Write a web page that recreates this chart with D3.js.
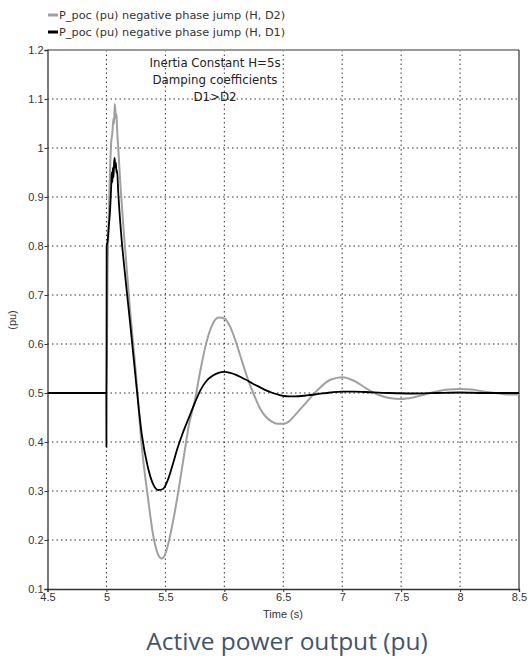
<!DOCTYPE html>
<html>
<head>
<meta charset="utf-8">
<script src="https://cdn.jsdelivr.net/npm/d3@7"></script>
<style>
  body { margin: 0; background: #fff; }
  text { font-family: "Liberation Sans", Arial, sans-serif; }
</style>
</head>
<body>
<svg id="chart" width="530" height="661"></svg>
<script>
// time axis (s)
var timeD2 = [4.5, 4.999, 5.0, 5.01, 5.02, 5.03, 5.04, 5.05, 5.06, 5.065, 5.07, 5.075, 5.08, 5.085, 5.09, 5.1, 5.12, 5.15, 5.2, 5.25, 5.3, 5.35, 5.4, 5.45, 5.47, 5.5, 5.55, 5.6, 5.65, 5.7, 5.75, 5.8, 5.85, 5.9, 5.95, 6.0, 6.05, 6.1, 6.15, 6.2, 6.25, 6.3, 6.35, 6.4, 6.45, 6.5, 6.55, 6.6, 6.7, 6.8, 6.9, 7.0, 7.1, 7.2, 7.3, 7.4, 7.5, 7.6, 7.7, 7.8, 7.9, 8.0, 8.1, 8.2, 8.3, 8.4, 8.5];
var powerD2 = [0.5, 0.5, 0.5, 0.75, 0.86, 0.95, 1.01, 1.03, 1.06, 1.05, 1.09, 1.08, 1.06, 1.07, 1.04, 1.0, 0.92, 0.82, 0.67, 0.54, 0.39, 0.29, 0.205, 0.165, 0.162, 0.172, 0.22, 0.285, 0.36, 0.435, 0.485, 0.55, 0.605, 0.64, 0.654, 0.652, 0.635, 0.603, 0.565, 0.528, 0.497, 0.47, 0.452, 0.442, 0.437, 0.437, 0.442, 0.455, 0.482, 0.508, 0.527, 0.532, 0.525, 0.51, 0.497, 0.49, 0.488, 0.491, 0.497, 0.503, 0.507, 0.508, 0.507, 0.503, 0.5, 0.497, 0.497];

var timeD1 = [4.5, 4.999, 5.0, 5.002, 5.01, 5.02, 5.03, 5.04, 5.045, 5.05, 5.055, 5.06, 5.065, 5.07, 5.075, 5.08, 5.085, 5.09, 5.1, 5.13, 5.15, 5.2, 5.25, 5.3, 5.35, 5.4, 5.44, 5.48, 5.52, 5.56, 5.6, 5.65, 5.7, 5.75, 5.8, 5.85, 5.9, 5.95, 6.0, 6.05, 6.1, 6.15, 6.2, 6.25, 6.3, 6.35, 6.4, 6.45, 6.5, 6.55, 6.6, 6.7, 6.8, 6.9, 7.0, 7.1, 7.2, 7.4, 7.6, 7.8, 8.0, 8.2, 8.5];
var powerD1 = [0.5, 0.5, 0.39, 0.80, 0.81, 0.84, 0.87, 0.92, 0.95, 0.93, 0.96, 0.94, 0.97, 0.98, 0.96, 0.97, 0.95, 0.955, 0.91, 0.81, 0.76, 0.645, 0.525, 0.415, 0.35, 0.312, 0.302, 0.304, 0.322, 0.352, 0.385, 0.42, 0.45, 0.48, 0.507, 0.525, 0.535, 0.541, 0.543, 0.541, 0.537, 0.531, 0.525, 0.518, 0.512, 0.506, 0.501, 0.497, 0.494, 0.493, 0.493, 0.495, 0.498, 0.501, 0.503, 0.503, 0.502, 0.5, 0.499, 0.5, 0.501, 0.5, 0.5];

var xTicks = [4.5, 5, 5.5, 6, 6.5, 7, 7.5, 8, 8.5];
var yTicks = [0.1, 0.2, 0.3, 0.4, 0.5, 0.6, 0.7, 0.8, 0.9, 1, 1.1, 1.2];
var legendLabels = ["P_poc (pu) negative  phase jump (H, D2)", "P_poc (pu) negative phase jump  (H, D1)"];
var noteLines = ["Inertia Constant H=5s", "Damping coefficients", "D1>D2"];

var svg = d3.select("#chart"),
    plotLeft = 47.5, plotRight = 519, plotTop = 50, plotBottom = 589;

var x = d3.scaleLinear().domain([4.5, 8.5]).range([plotLeft, plotRight]);
var y = d3.scaleLinear().domain([0.1, 1.2]).range([plotBottom, plotTop]);

svg.append("rect").attr("width", 530).attr("height", 661).attr("fill", "#fff");

// dotted grid
svg.append("g").selectAll("line")
    .data(xTicks.slice(1, -1))
    .enter().append("line")
    .attr("x1", function (d) { return x(d); })
    .attr("x2", function (d) { return x(d); })
    .attr("y1", plotTop).attr("y2", plotBottom)
    .attr("stroke", "#333").attr("stroke-width", 1)
    .attr("stroke-dasharray", "1.5,3");

svg.append("g").selectAll("line")
    .data(yTicks.slice(1, -1))
    .enter().append("line")
    .attr("y1", function (d) { return y(d); })
    .attr("y2", function (d) { return y(d); })
    .attr("x1", plotLeft).attr("x2", plotRight)
    .attr("stroke", "#333").attr("stroke-width", 1)
    .attr("stroke-dasharray", "1.5,3");

// frame
svg.append("line").attr("x1", plotLeft).attr("x2", plotRight).attr("y1", plotTop).attr("y2", plotTop)
    .attr("stroke", "#999").attr("stroke-width", 2);
svg.append("line").attr("x1", plotRight).attr("x2", plotRight).attr("y1", plotTop).attr("y2", plotBottom)
    .attr("stroke", "#333").attr("stroke-width", 1.2);

var xAxis = svg.append("g")
    .attr("transform", "translate(0," + plotBottom + ")")
    .call(d3.axisBottom(x).tickValues(xTicks).tickSize(3).tickFormat(d3.format("")));
var yAxis = svg.append("g")
    .attr("transform", "translate(" + plotLeft + ",0)")
    .call(d3.axisLeft(y).tickValues(yTicks).tickSize(3).tickFormat(d3.format("")));

[xAxis, yAxis].forEach(function (g) {
    g.select(".domain").attr("stroke", "#333").attr("stroke-width", 1.3);
    g.selectAll(".tick line").attr("stroke", "#333");
    g.selectAll("text")
        .attr("fill", "#333")
        .style("font-size", "11px")
        .style("font-family", "'Liberation Sans', Arial, sans-serif");
});
xAxis.selectAll("text").attr("dy", "0.55em");
yAxis.selectAll("text").attr("x", -4);

// curves
var line = d3.line()
    .curve(d3.curveMonotoneX)
    .x(function (d) { return x(d[0]); })
    .y(function (d) { return y(d[1]); });

svg.append("path")
    .datum(d3.zip(timeD2, powerD2))
    .attr("d", line)
    .attr("fill", "none")
    .attr("stroke", "#a0a0a0")
    .attr("stroke-width", 2);

svg.append("path")
    .datum(d3.zip(timeD1, powerD1))
    .attr("d", line)
    .attr("fill", "none")
    .attr("stroke", "#000")
    .attr("stroke-width", 1.8);

// legend
var legend = svg.append("g").selectAll("g")
    .data(legendLabels)
    .enter().append("g")
    .attr("transform", function (d, i) { return "translate(48," + (15 + i * 17) + ")"; });
legend.append("line")
    .attr("x1", 0).attr("x2", 10)
    .attr("stroke", function (d, i) { return i == 0 ? "#a0a0a0" : "#000"; })
    .attr("stroke-width", 3);
legend.append("text")
    .attr("x", 11).attr("dy", "0.35em")
    .attr("fill", "#333")
    .style("font-family", "'DejaVu Sans', Verdana, sans-serif")
    .style("font-size", "11.3px")
    .text(function (d) { return d; });

// annotation
svg.append("g").selectAll("text")
    .data(noteLines)
    .enter().append("text")
    .attr("x", 215)
    .attr("y", function (d, i) { return 63 + i * 17; })
    .attr("dy", "0.35em")
    .attr("text-anchor", "middle")
    .attr("fill", "#222")
    .style("font-family", "'DejaVu Sans', Verdana, sans-serif")
    .style("font-size", "11.8px")
    .text(function (d) { return d; });

// axis titles
svg.append("text")
    .attr("transform", "translate(16,320) rotate(-90)")
    .attr("text-anchor", "middle")
    .attr("fill", "#333")
    .style("font-size", "11px")
    .text("(pu)");

svg.append("text")
    .attr("x", 283).attr("y", 614)
    .attr("dy", "0.35em")
    .attr("text-anchor", "middle")
    .attr("fill", "#333")
    .style("font-size", "11px")
    .text("Time (s)");

svg.append("text")
    .attr("x", 287).attr("y", 641)
    .attr("dy", "0.35em")
    .attr("text-anchor", "middle")
    .attr("fill", "#44546a")
    .style("font-family", "'Open Sans', 'Noto Sans', sans-serif")
    .style("font-size", "24.5px")
    .text("Active power output (pu)");
</script>
</body>
</html>
